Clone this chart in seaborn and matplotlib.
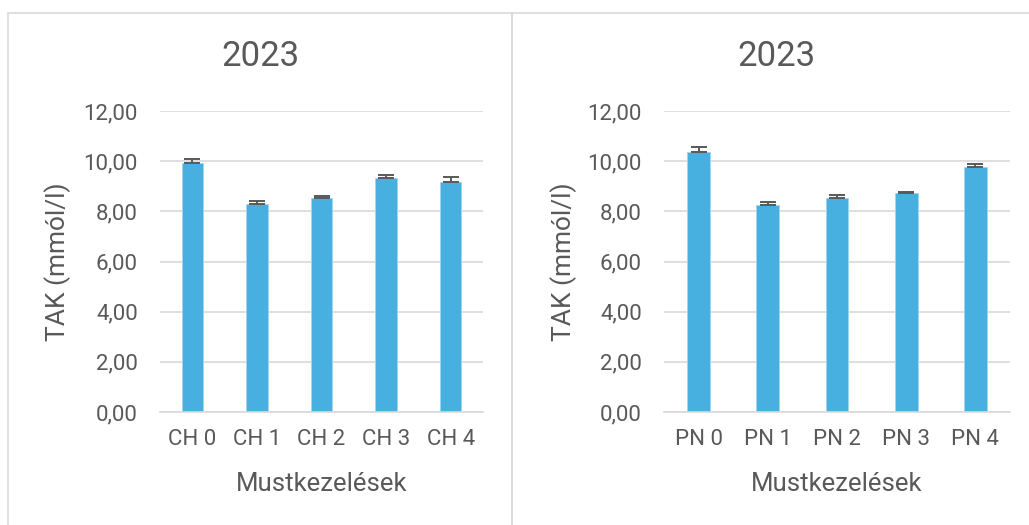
import matplotlib
matplotlib.use("Agg")
import matplotlib.pyplot as plt
import matplotlib.ticker as mticker
from matplotlib.patches import Rectangle
import seaborn as sns
import pandas as pd

# Must treatment data (TAK, mmol/l) with upper error values
ch_labels = ["CH 0", "CH 1", "CH 2", "CH 3", "CH 4"]
ch_values = [9.92, 8.29, 8.52, 9.32, 9.16]
ch_errors = [0.18, 0.12, 0.10, 0.12, 0.21]

pn_labels = ["PN 0", "PN 1", "PN 2", "PN 3", "PN 4"]
pn_values = [10.35, 8.24, 8.55, 8.72, 9.76]
pn_errors = [0.20, 0.12, 0.11, 0.05, 0.13]

title_text = "2023"
y_label = "TAK (mmól/l)"
x_label = "Mustkezelések"

sns.set_theme(style="white")
plt.rcParams["font.family"] = ["Roboto", "DejaVu Sans"]

TEXT = "#595959"
BAR = "#47b0e0"
GRID = "#d9d9d9"

W, H = 1029, 525
fig = plt.figure(figsize=(W / 100, H / 100), dpi=100)
fig.patch.set_facecolor("white")

# Chart-area frames
fig.add_artist(Rectangle((8 / W, -0.1), (512 - 8) / W, 1.1 - 13 / H,
                         transform=fig.transFigure, fill=False,
                         edgecolor=GRID, linewidth=1.2))
fig.add_artist(Rectangle((512 / W, -0.1), 0.6, 1.1 - 13 / H,
                         transform=fig.transFigure, fill=False,
                         edgecolor=GRID, linewidth=1.2))


def panel(rect, labels, values, errors, title_x, ylab_x):
    ax = fig.add_axes(rect)
    df = pd.DataFrame({"cat": labels, "val": values})
    sns.barplot(data=df, x="cat", y="val", ax=ax, color=BAR,
                width=0.33, saturation=1, edgecolor="#9fd6f0", linewidth=0.6)
    ax.errorbar(range(len(values)), values,
                yerr=[[0] * len(errors), errors], fmt="none",
                ecolor="#595959", elinewidth=1.4, capsize=6, capthick=1.4)
    ax.set_ylim(0, 12)
    ax.set_xlim(-0.5, len(values) - 0.5)
    ax.yaxis.set_major_locator(mticker.MultipleLocator(2))
    ax.yaxis.set_major_formatter(
        mticker.FuncFormatter(lambda v, p: f"{v:.2f}".replace(".", ",")))
    ax.grid(axis="y", color=GRID, linewidth=1.2)
    ax.set_axisbelow(True)
    for s in ["left", "right", "top"]:
        ax.spines[s].set_visible(False)
    ax.spines["bottom"].set_color(GRID)
    ax.spines["bottom"].set_linewidth(1.2)
    ax.tick_params(axis="both", length=0, labelsize=16, colors=TEXT)
    ax.tick_params(axis="y", pad=16)
    ax.tick_params(axis="x", pad=12)
    ax.set_xlabel(x_label, fontsize=18.5, color=TEXT)
    ax.set_ylabel(y_label, fontsize=19, color=TEXT)
    ax.xaxis.set_label_coords(0.5, -0.199)
    ax.yaxis.set_label_coords(ylab_x, 0.5)
    fig.text(title_x, 1 - 56 / H, title_text, ha="center", va="center",
             fontsize=25, color=TEXT)
    return ax


panel([160 / W, 1 - 412 / H, 323 / W, 301 / H], ch_labels, ch_values,
      ch_errors, 260 / W, -0.276)
panel([664 / W, 1 - 412 / H, 346 / W, 301 / H], pn_labels, pn_values,
      pn_errors, 776 / W, -0.251)

fig.savefig("out.png", dpi=100)
